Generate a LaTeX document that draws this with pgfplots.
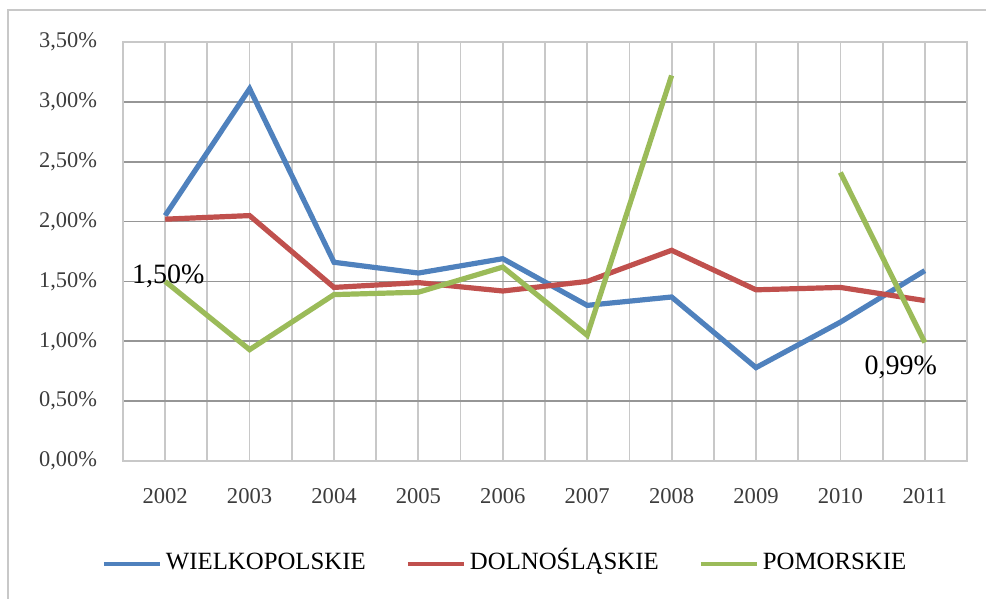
\documentclass[border=0pt]{standalone}
\usepackage{pgfplots}
\pgfplotsset{compat=1.18}
\usepackage{fontspec}
\setmainfont{Liberation Serif}
\definecolor{cblue}{RGB}{79,129,189}
\definecolor{cred}{RGB}{192,80,77}
\definecolor{cgreen}{RGB}{155,187,89}
\definecolor{hgrid}{RGB}{150,150,150}
\definecolor{vgrid}{RGB}{200,200,200}
\definecolor{tick}{RGB}{60,60,60}
\begin{document}
\begin{tikzpicture}
\useasboundingbox (0,0) rectangle (493pt,299.5pt);
\draw[color=vgrid, line width=1pt] (4pt,-5pt) -- (4pt,294.5pt) -- (500pt,294.5pt);
\begin{axis}[
  at={(61.5pt,69pt)}, anchor=south west,
  scale only axis, width=422pt, height=209.5pt,
  xmin=-0.5, xmax=9.5, ymin=0, ymax=3.5,
  xtick={0,...,9},
  xticklabels={2002,2003,2004,2005,2006,2007,2008,2009,2010,2011},
  minor xtick={-0.5,0.5,...,9.5},
  ytick={0,0.5,...,3.5},
  yticklabels={{0,00\%},{0,50\%},{1,00\%},{1,50\%},{2,00\%},{2,50\%},{3,00\%},{3,50\%}},
  major tick length=0pt, minor tick length=0pt,
  xmajorgrids, xminorgrids, ymajorgrids,
  x grid style={color=vgrid, line width=0.9pt},
  minor x grid style={color=vgrid, line width=0.9pt},
  y grid style={color=hgrid, line width=0.9pt},
  axis line style={color=vgrid, line width=0.9pt},
  xticklabel style={font=\fontsize{11.3}{13}\selectfont, text=tick, yshift=-10pt},
  yticklabel style={font=\fontsize{11.2}{13}\selectfont, text=tick, xshift=-9.5pt},
  unbounded coords=jump,
  legend columns=3,
  legend style={at={(0.4538,-0.2458)}, anchor=center, draw=none, fill=none,
    font=\fontsize{12.4}{14}\selectfont,
    nodes={text height=1.6ex, text depth=0.4ex},
    /tikz/every even column/.append style={column sep=18pt}},
  legend image code/.code={\draw[#1, line width=2.1pt] (-2pt,0pt) -- (26pt,0pt);},
]
\addplot[cblue, line width=2.6pt] coordinates {
 (0,2.05) (1,3.11) (2,1.66) (3,1.57) (4,1.69) (5,1.30) (6,1.37) (7,0.78) (8,1.16) (9,1.59)};
\addlegendentry{WIELKOPOLSKIE}
\addplot[cred, line width=2.6pt] coordinates {
 (0,2.02) (1,2.05) (2,1.45) (3,1.49) (4,1.42) (5,1.50) (6,1.76) (7,1.43) (8,1.45) (9,1.34)};
\addlegendentry{DOLNOŚLĄSKIE}
\addplot[cgreen, line width=2.6pt] coordinates {
 (0,1.50) (1,0.93) (2,1.39) (3,1.41) (4,1.62) (5,1.05) (6,3.22) (7,nan) (8,2.41) (9,0.99)};
\addlegendentry{POMORSKIE}
\node[font=\fontsize{14}{16}\selectfont, inner sep=0pt] at (axis cs:0,1.50) [xshift=1.5pt, yshift=2.5pt] {1,50\%};
\node[font=\fontsize{14}{16}\selectfont, inner sep=0pt] at (axis cs:9,0.99) [xshift=-12pt, yshift=-12.5pt] {0,99\%};
\end{axis}
\end{tikzpicture}
\end{document}
